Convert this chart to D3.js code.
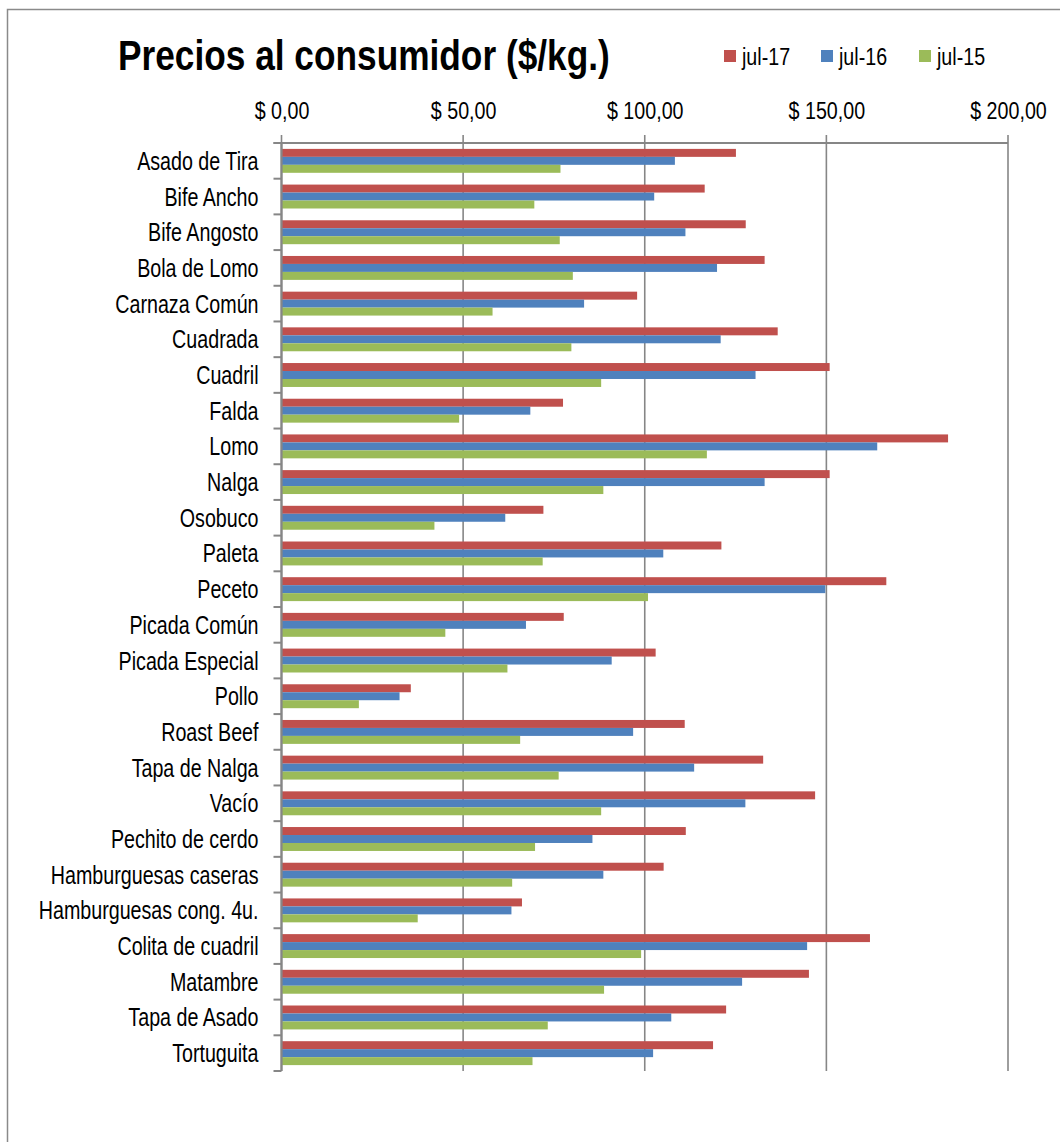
<!DOCTYPE html>
<html>
<head>
<meta charset="utf-8">
<script src="https://cdn.jsdelivr.net/npm/d3@7"></script>
<style>
  html, body { margin: 0; padding: 0; background: #fff; }
  svg { display: block; }
</style>
</head>
<body>
<svg id="chart" width="1060" height="1142"></svg>
<script>
const categories = ["Asado de Tira","Bife Ancho","Bife Angosto","Bola de Lomo","Carnaza Común","Cuadrada","Cuadril","Falda","Lomo","Nalga","Osobuco","Paleta","Peceto","Picada Común","Picada Especial","Pollo","Roast Beef","Tapa de Nalga","Vacío","Pechito de cerdo","Hamburguesas caseras","Hamburguesas cong. 4u.","Colita de cuadril","Matambre","Tapa de Asado","Tortuguita"];
const seriesNames = ["jul-17","jul-16","jul-15"];
const jul17 = [125.1,116.5,127.8,133.0,97.9,136.6,150.9,77.5,183.5,150.9,72.1,121.1,166.5,77.7,103.0,35.6,111.0,132.6,146.9,111.3,105.2,66.2,162.0,145.2,122.4,118.8];
const jul16 = [108.3,102.6,111.2,119.9,83.3,120.9,130.5,68.5,164.0,133.0,61.6,105.1,149.7,67.3,90.9,32.5,96.8,113.6,127.7,85.6,88.6,63.3,144.7,126.8,107.3,102.3];
const jul15 = [76.8,69.6,76.6,80.2,58.1,79.8,88.0,48.9,117.1,88.6,42.1,71.9,100.9,45.1,62.2,21.3,65.7,76.3,88.0,69.8,63.5,37.5,99.0,88.8,73.3,69.1];
const xTicks = [0,50,100,150,200];
const colors = ["#C0504D","#4F81BD","#9BBB59"];

const seriesValues = [jul17, jul16, jul15];
const rows = categories.map((c,i) => ({cat: c, vals: seriesValues.map(s => s[i])}));

const svg = d3.select("#chart");

// font detection
let fam = '"Liberation Sans Narrow", "Arial Narrow", sans-serif';
let sx = 1;
(function(){
  const t = svg.append("text").style("font-size","100px").style("font-family",'"Liberation Sans Narrow"').text("abcdefghij");
  const w1 = t.node().getComputedTextLength();
  t.style("font-family",'"Liberation Sans"');
  const w2 = t.node().getComputedTextLength();
  t.remove();
  if (!(w1 < w2 * 0.9)) { fam = '"Liberation Sans", Arial, sans-serif'; sx = 0.82; }
})();

const plotLeft = 281.5, plotRight = 1008, plotTop = 143, plotBottom = 1071;
const x = d3.scaleLinear().domain([0,200]).range([plotLeft, plotRight]);
const y = d3.scaleBand().domain(categories).range([plotTop, plotBottom]).paddingInner(0.33).paddingOuter(0.165);
const ySub = d3.scaleBand().domain(seriesNames).range([0, y.bandwidth()]).padding(0);

const gray = "#868686";

// outer border
svg.append("path").attr("d", "M7.5,1142 L7.5,9.5 L1060,9.5").attr("fill","none").attr("stroke","#8a8a8a").attr("stroke-width",1.5);

// gridlines
svg.append("g").selectAll("line").data(xTicks).join("line")
  .attr("x1", d => x(d)).attr("x2", d => x(d))
  .attr("y1", plotTop - 8).attr("y2", plotBottom)
  .attr("stroke", gray).attr("stroke-width", 1.6);

// bars
const groups = svg.append("g").selectAll("g").data(rows).join("g")
  .attr("transform", d => `translate(0,${y(d.cat)})`);
groups.selectAll("rect").data(d => d.vals.map((v,k) => ({v, k}))).join("rect")
  .attr("x", x(0))
  .attr("y", d => ySub(seriesNames[d.k]))
  .attr("width", d => x(d.v) - x(0))
  .attr("height", ySub.bandwidth())
  .attr("fill", d => colors[d.k]);

// top axis
const xAxis = d3.axisTop(x).tickValues(xTicks).tickSize(0).tickPadding(24)
  .tickFormat(d => "$ " + d3.format(".2f")(d).replace(".", ","));
const gx = svg.append("g").attr("transform", `translate(0,${plotTop})`).call(xAxis);
gx.select(".domain").remove();
gx.selectAll("text").style("font-family", fam).style("font-size", "24px").attr("fill","#000")
  .attr("transform", `scale(${sx},1)`);
svg.append("line").attr("x1", plotLeft - 8).attr("x2", plotRight).attr("y1", plotTop).attr("y2", plotTop)
  .attr("stroke", gray).attr("stroke-width", 2.2);

// left axis
const labScale = 0.96 * sx;
const yAxis = d3.axisLeft(y).tickSize(0).tickPadding(23 / labScale);
const gy = svg.append("g").attr("transform", `translate(${plotLeft},0)`).call(yAxis);
gy.select(".domain").remove();
gy.selectAll("text").style("font-family", fam).style("font-size", "25px").attr("fill","#000")
  .attr("dy","0.36em").attr("transform", `scale(${labScale},1)`);
svg.append("line").attr("x1", plotLeft).attr("x2", plotLeft).attr("y1", plotTop).attr("y2", plotBottom)
  .attr("stroke", gray).attr("stroke-width", 2.2);
const boundaries = d3.range(categories.length + 1).map(i => plotTop + i * (plotBottom - plotTop) / categories.length);
svg.append("g").selectAll("line").data(boundaries).join("line")
  .attr("x1", plotLeft - 8).attr("x2", plotLeft).attr("y1", d => d).attr("y2", d => d)
  .attr("stroke", gray).attr("stroke-width", 2);

// title
svg.append("text").attr("transform", `translate(118,70) scale(${sx},1)`)
  .style("font-family", fam).style("font-size", "43px").style("font-weight", "bold")
  .attr("fill","#000").text("Precios al consumidor ($/kg.)");

// legend
const legX = [724, 821, 919];
const leg = svg.append("g").selectAll("g").data(seriesNames).join("g")
  .attr("transform", (d,i) => `translate(${legX[i]},50)`);
leg.append("rect").attr("x",0).attr("y",0).attr("width",12).attr("height",12).attr("fill",(d,i)=>colors[i]);
leg.append("text").attr("transform", `translate(18,15) scale(${sx},1)`)
  .style("font-family", fam).style("font-size","24px").attr("fill","#000").text(d => d);
</script>
</body>
</html>
